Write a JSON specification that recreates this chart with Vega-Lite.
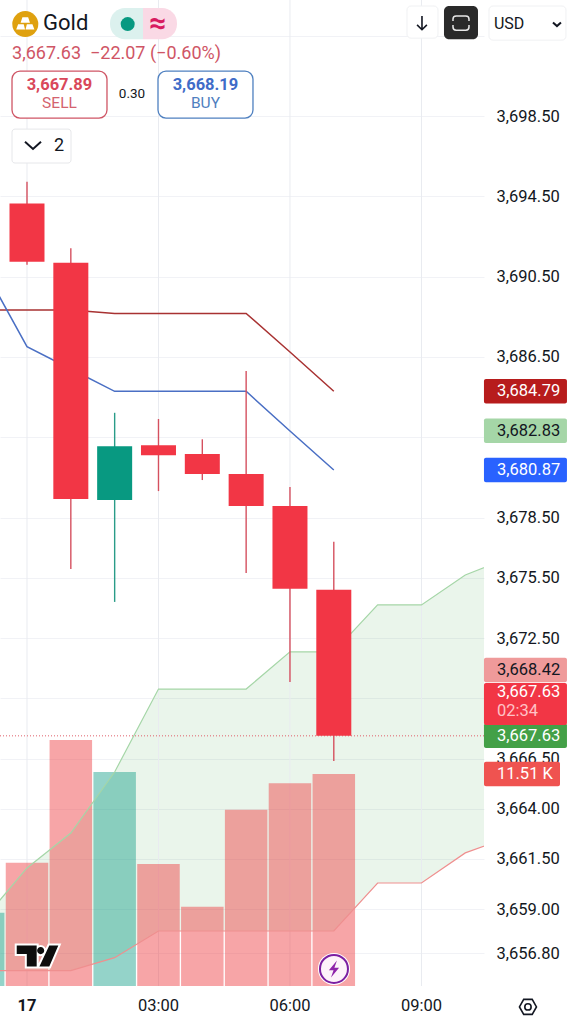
{
  "$schema": "https://vega.github.io/schema/vega-lite/v6.json",
  "width": 484,
  "height": 986,
  "autosize": "none",
  "padding": { "left": 0, "top": 0, "right": 89, "bottom": 38 },
  "background": "#ffffff",
  "config": { "view": { "stroke": null }, "text": { "font": "Roboto" }, "scale": { "continuousPadding": 0 } },
  "datasets": {
    "ui": [{ "panel": "header" }],
    "candles": [
      { "hour": 0, "open": 3694.15, "high": 3695.23, "low": 3691.09, "close": 3691.24 },
      { "hour": 1, "open": 3691.19, "high": 3691.91, "low": 3675.94, "close": 3679.43 },
      { "hour": 2, "open": 3679.38, "high": 3683.72, "low": 3674.3, "close": 3682.05 },
      { "hour": 3, "open": 3682.1, "high": 3683.41, "low": 3679.82, "close": 3681.6 },
      { "hour": 4, "open": 3681.67, "high": 3682.4, "low": 3680.37, "close": 3680.67 },
      { "hour": 5, "open": 3680.67, "high": 3685.8, "low": 3675.74, "close": 3679.08 },
      { "hour": 6, "open": 3679.08, "high": 3680.02, "low": 3670.31, "close": 3674.95 },
      { "hour": 7, "open": 3674.9, "high": 3677.3, "low": 3666.38, "close": 3667.63 }
    ],
    "volume": [
      { "hour": -1, "volume": 3980, "direction": "up" },
      { "hour": 0, "volume": 6695, "direction": "down" },
      { "hour": 1, "volume": 13358, "direction": "down" },
      { "hour": 2, "volume": 11620, "direction": "up" },
      { "hour": 3, "volume": 6625, "direction": "down" },
      { "hour": 4, "volume": 4306, "direction": "down" },
      { "hour": 5, "volume": 9573, "direction": "down" },
      { "hour": 6, "volume": 11007, "direction": "down" },
      { "hour": 7, "volume": 11510, "direction": "down" }
    ],
    "cloud": [
      { "hour": -1, "top": 3658.46, "bottom": 3655.94 },
      { "hour": 0, "top": 3661.05, "bottom": 3655.94 },
      { "hour": 1, "top": 3662.79, "bottom": 3655.94 },
      { "hour": 2, "top": 3665.83, "bottom": 3656.58 },
      { "hour": 3, "top": 3669.96, "bottom": 3657.91 },
      { "hour": 4, "top": 3669.96, "bottom": 3657.91 },
      { "hour": 5, "top": 3669.96, "bottom": 3657.91 },
      { "hour": 6, "top": 3671.81, "bottom": 3657.91 },
      { "hour": 7, "top": 3671.81, "bottom": 3657.91 },
      { "hour": 8, "top": 3674.15, "bottom": 3660.3 },
      { "hour": 9, "top": 3674.15, "bottom": 3660.3 },
      { "hour": 10, "top": 3675.64, "bottom": 3661.8 },
      { "hour": 11, "top": 3676.49, "bottom": 3662.6 }
    ],
    "bands": [
      { "hour": -1, "red": 3688.84, "blue": 3690.98 },
      { "hour": 0, "red": 3688.84, "blue": 3687.01 },
      { "hour": 1, "red": 3688.84, "blue": 3685.9 },
      { "hour": 2, "red": 3688.67, "blue": 3684.79 },
      { "hour": 3, "red": 3688.67, "blue": 3684.79 },
      { "hour": 4, "red": 3688.67, "blue": 3684.79 },
      { "hour": 5, "red": 3688.67, "blue": 3684.79 },
      { "hour": 6, "red": 3686.75, "blue": 3682.81 },
      { "hour": 7, "red": 3684.79, "blue": 3680.87 }
    ],
    "tags": [
      { "label": "3,684.79", "tag": "upper", "slot": 3684.79 },
      { "label": "3,682.83", "tag": "middle", "slot": 3682.83 },
      { "label": "3,680.87", "tag": "lower", "slot": 3680.87 },
      { "label": "3,668.42", "tag": "cloud", "slot": 3670.91 },
      { "label": "3,667.63", "tag": "close", "slot": 3667.63 }
    ],
    "sessions": [
      { "hour": 0, "label": "17" },
      { "hour": 3, "label": "03:00" },
      { "hour": 6, "label": "06:00" },
      { "hour": 9, "label": "09:00" }
    ]
  },
  "data": { "name": "ui" },
  "resolve": { "scale": { "y": "independent" } },
  "layer": [
    {
      "data": { "name": "cloud" },
      "mark": { "type": "area", "clip": true, "color": "#43a047", "opacity": 0.11 },
      "encoding": {
        "x": { "field": "hour", "type": "quantitative", "scale": { "domain": [-0.616, 10.427] }, "axis": null },
        "y": {
          "field": "top",
          "type": "quantitative",
          "scale": { "domain": [3655.17, 3704.28] },
          "axis": {
            "title": null,
            "orient": "right",
            "values": [3702.5, 3698.5, 3694.5, 3690.5, 3686.5, 3682.5, 3678.5, 3675.5, 3672.5, 3669.5, 3666.5, 3664, 3661.5, 3659, 3656.8],
            "labelExpr": "indexof([3702.5, 3682.5, 3669.5], datum.value) >= 0 ? '' : format(datum.value, ',.2f')",
            "labelFont": "Roboto",
            "labelFontSize": 16.5,
            "labelColor": "#131722",
            "labelPadding": 12,
            "labelOverlap": false,
            "labelBound": false,
            "domain": false,
            "ticks": false,
            "grid": true,
            "gridColor": "#f1f2f6"
          }
        },
        "y2": { "field": "bottom" }
      }
    },
    {
      "data": { "name": "sessions" },
      "mark": { "type": "rule", "color": "#e9ebf0", "strokeWidth": 1 },
      "encoding": {
        "x": { "field": "hour", "type": "quantitative", "scale": { "domain": [-0.616, 10.427] }, "axis": null }
      }
    },
    {
      "data": { "name": "volume" },
      "mark": { "type": "bar", "orient": "vertical", "width": 42.5, "clip": true, "opacity": 0.47 },
      "encoding": {
        "x": { "field": "hour", "type": "quantitative", "scale": { "domain": [-0.616, 10.427] }, "axis": null },
        "y": { "field": "volume", "type": "quantitative", "scale": { "domain": [0, 53540] }, "axis": null },
        "color": { "condition": { "test": "datum.direction == 'up'", "value": "#1ba18c" }, "value": "#ef4045" }
      }
    },
    {
      "layer": [
        {
          "data": { "name": "cloud" },
          "mark": { "type": "line", "clip": true, "color": "#a5d6a7", "strokeWidth": 1.2 },
          "encoding": {
            "x": { "field": "hour", "type": "quantitative", "scale": { "domain": [-0.616, 10.427] }, "axis": null },
            "y": { "field": "top", "type": "quantitative", "scale": { "domain": [3655.17, 3704.28] }, "axis": null }
          }
        },
        {
          "data": { "name": "cloud" },
          "mark": { "type": "line", "clip": true, "color": "#ef8f8f", "strokeWidth": 1.2 },
          "encoding": {
            "x": { "field": "hour", "type": "quantitative", "scale": { "domain": [-0.616, 10.427] }, "axis": null },
            "y": { "field": "bottom", "type": "quantitative", "scale": { "domain": [3655.17, 3704.28] }, "axis": null }
          }
        },
        {
          "data": { "name": "bands" },
          "mark": { "type": "line", "clip": true, "color": "#a83232", "strokeWidth": 1.5 },
          "encoding": {
            "x": { "field": "hour", "type": "quantitative", "scale": { "domain": [-0.616, 10.427] }, "axis": null },
            "y": { "field": "red", "type": "quantitative", "scale": { "domain": [3655.17, 3704.28] }, "axis": null }
          }
        },
        {
          "data": { "name": "bands" },
          "mark": { "type": "line", "clip": true, "color": "#4a6fc4", "strokeWidth": 1.5 },
          "encoding": {
            "x": { "field": "hour", "type": "quantitative", "scale": { "domain": [-0.616, 10.427] }, "axis": null },
            "y": { "field": "blue", "type": "quantitative", "scale": { "domain": [3655.17, 3704.28] }, "axis": null }
          }
        },
        {
          "data": { "values": [{ "last": 3667.63 }] },
          "mark": { "type": "rule", "color": "#e0606a", "strokeWidth": 1, "strokeDash": [1, 2] },
          "encoding": {
            "y": { "field": "last", "type": "quantitative", "scale": { "domain": [3655.17, 3704.28] }, "axis": null }
          }
        },
        {
          "data": { "name": "candles" },
          "mark": { "type": "rule", "strokeWidth": 1.4 },
          "encoding": {
            "x": { "field": "hour", "type": "quantitative", "scale": { "domain": [-0.616, 10.427] }, "axis": null },
            "y": { "field": "low", "type": "quantitative", "scale": { "domain": [3655.17, 3704.28] }, "axis": null },
            "y2": { "field": "high" },
            "color": { "condition": { "test": "datum.close > datum.open", "value": "#2a9c88" }, "value": "#d5505f" }
          }
        },
        {
          "data": { "name": "candles" },
          "mark": { "type": "bar", "width": 35 },
          "encoding": {
            "x": { "field": "hour", "type": "quantitative", "scale": { "domain": [-0.616, 10.427] }, "axis": null },
            "y": { "field": "open", "type": "quantitative", "scale": { "domain": [3655.17, 3704.28] }, "axis": null },
            "y2": { "field": "close" },
            "color": { "condition": { "test": "datum.close > datum.open", "value": "#089981" }, "value": "#f23645" }
          }
        },
        {
          "mark": { "type": "point", "filled": false, "opacity": 1, "size": 1764, "stroke": "#ffffff", "strokeWidth": 4,
            "shape": "M-.99,-.5 L-.04,-.5 L-.04,.5 L-.51,.5 L-.51,-.1 L-.99,-.1 Z M.32,-.26 A.167,.167 0 1 1 -.02,-.26 A.167,.167 0 1 1 .32,-.26 Z M.56,-.5 L.99,-.5 L.56,.5 L.09,.5 Z" },
          "encoding": {
            "x": { "datum": 0.24, "type": "quantitative", "scale": { "domain": [-0.616, 10.427] }, "axis": null },
            "y": { "datum": 3656.66, "type": "quantitative", "scale": { "domain": [3655.17, 3704.28] }, "axis": null }
          }
        },
        {
          "mark": { "type": "point", "filled": true, "opacity": 1, "size": 1764, "fill": "#0d0d0d",
            "shape": "M-.99,-.5 L-.04,-.5 L-.04,.5 L-.51,.5 L-.51,-.1 L-.99,-.1 Z M.32,-.26 A.167,.167 0 1 1 -.02,-.26 A.167,.167 0 1 1 .32,-.26 Z M.56,-.5 L.99,-.5 L.56,.5 L.09,.5 Z" },
          "encoding": {
            "x": { "datum": 0.24, "type": "quantitative", "scale": { "domain": [-0.616, 10.427] }, "axis": null },
            "y": { "datum": 3656.66, "type": "quantitative", "scale": { "domain": [3655.17, 3704.28] }, "axis": null }
          }
        },
        {
          "mark": { "type": "point", "shape": "circle", "filled": true, "opacity": 1, "size": 1024, "fill": "#ffffff" },
          "encoding": {
            "x": { "datum": 7.004, "type": "quantitative", "scale": { "domain": [-0.616, 10.427] }, "axis": null },
            "y": { "datum": 3656.02, "type": "quantitative", "scale": { "domain": [3655.17, 3704.28] }, "axis": null }
          }
        },
        {
          "mark": { "type": "point", "shape": "circle", "filled": true, "opacity": 1, "size": 784, "fill": "#fdf3fa", "stroke": "#7b1fa2", "strokeWidth": 2 },
          "encoding": {
            "x": { "datum": 7.004, "type": "quantitative", "scale": { "domain": [-0.616, 10.427] }, "axis": null },
            "y": { "datum": 3656.02, "type": "quantitative", "scale": { "domain": [3655.17, 3704.28] }, "axis": null }
          }
        },
        {
          "mark": { "type": "point", "filled": true, "opacity": 1, "size": 289, "fill": "#8e24aa",
            "shape": "M.35,-1 L-.6,.15 L-.05,.15 L-.35,1 L.6,-.15 L.05,-.15 Z" },
          "encoding": {
            "x": { "datum": 7.004, "type": "quantitative", "scale": { "domain": [-0.616, 10.427] }, "axis": null },
            "y": { "datum": 3656.02, "type": "quantitative", "scale": { "domain": [3655.17, 3704.28] }, "axis": null }
          }
        },
        {
          "data": { "name": "tags" },
          "mark": { "type": "rect", "width": 83, "height": 24.5, "cornerRadius": 2 },
          "encoding": {
            "x": { "datum": 11.373, "type": "quantitative", "scale": { "domain": [-0.616, 10.427] }, "axis": null },
            "y": { "field": "slot", "type": "quantitative", "scale": { "domain": [3655.17, 3704.28] }, "axis": null },
            "color": {
              "field": "tag",
              "type": "nominal",
              "legend": null,
              "scale": {
                "domain": ["upper", "middle", "lower", "cloud", "close"],
                "range": ["#b71c1c", "#a5d6a7", "#2962ff", "#ef9a9a", "#43a047"]
              }
            }
          }
        },
        {
          "mark": { "type": "rect", "width": 83, "height": 42, "cornerRadius": 2, "color": "#f23645" },
          "encoding": {
            "x": { "datum": 11.373, "type": "quantitative", "scale": { "domain": [-0.616, 10.427] }, "axis": null },
            "y": { "datum": 3669.22, "type": "quantitative", "scale": { "domain": [3655.17, 3704.28] }, "axis": null }
          }
        },
        {
          "mark": { "type": "rect", "width": 76, "height": 24.5, "cornerRadius": 2, "color": "#ef5350" },
          "encoding": {
            "x": { "datum": 11.294, "type": "quantitative", "scale": { "domain": [-0.616, 10.427] }, "axis": null },
            "y": { "datum": 3665.73, "type": "quantitative", "scale": { "domain": [3655.17, 3704.28] }, "axis": null }
          }
        },
        {
          "data": { "name": "tags" },
          "mark": { "type": "text", "align": "left", "baseline": "middle", "font": "Roboto", "fontSize": 16.5 },
          "encoding": {
            "x": { "datum": 10.723, "type": "quantitative", "scale": { "domain": [-0.616, 10.427] }, "axis": null },
            "y": { "field": "slot", "type": "quantitative", "scale": { "domain": [3655.17, 3704.28] }, "axis": null },
            "text": { "field": "label" },
            "color": { "condition": { "test": "datum.tag == 'middle' || datum.tag == 'cloud'", "value": "#131722" }, "value": "#ffffff" }
          }
        },
        {
          "mark": { "type": "text", "text": "3,667.63", "align": "left", "baseline": "middle", "font": "Roboto", "fontSize": 16.5, "color": "#ffffff" },
          "encoding": {
            "x": { "datum": 10.723, "type": "quantitative", "scale": { "domain": [-0.616, 10.427] }, "axis": null },
            "y": { "datum": 3669.82, "type": "quantitative", "scale": { "domain": [3655.17, 3704.28] }, "axis": null }
          }
        },
        {
          "mark": { "type": "text", "text": "02:34", "align": "left", "baseline": "middle", "font": "Roboto", "fontSize": 16.5, "color": "#ffc2c6" },
          "encoding": {
            "x": { "datum": 10.723, "type": "quantitative", "scale": { "domain": [-0.616, 10.427] }, "axis": null },
            "y": { "datum": 3668.87, "type": "quantitative", "scale": { "domain": [3655.17, 3704.28] }, "axis": null }
          }
        },
        {
          "mark": { "type": "text", "text": "11.51 K", "align": "left", "baseline": "middle", "font": "Roboto", "fontSize": 16.5, "color": "#ffffff" },
          "encoding": {
            "x": { "datum": 10.723, "type": "quantitative", "scale": { "domain": [-0.616, 10.427] }, "axis": null },
            "y": { "datum": 3665.73, "type": "quantitative", "scale": { "domain": [3655.17, 3704.28] }, "axis": null }
          }
        },
        {
          "data": { "name": "sessions" },
          "transform": [{ "filter": "datum.hour == 0" }],
          "mark": { "type": "text", "align": "center", "baseline": "middle", "font": "Roboto", "fontSize": 16.5, "fontWeight": "bold", "color": "#131722" },
          "encoding": {
            "x": { "field": "hour", "type": "quantitative", "scale": { "domain": [-0.616, 10.427] }, "axis": null },
            "y": { "datum": 3654.18, "type": "quantitative", "scale": { "domain": [3655.17, 3704.28] }, "axis": null },
            "text": { "field": "label" }
          }
        },
        {
          "data": { "name": "sessions" },
          "transform": [{ "filter": "datum.hour > 0" }],
          "mark": { "type": "text", "align": "center", "baseline": "middle", "font": "Roboto", "fontSize": 16.5, "color": "#131722" },
          "encoding": {
            "x": { "field": "hour", "type": "quantitative", "scale": { "domain": [-0.616, 10.427] }, "axis": null },
            "y": { "datum": 3654.18, "type": "quantitative", "scale": { "domain": [3655.17, 3704.28] }, "axis": null },
            "text": { "field": "label" }
          }
        },
        {
          "mark": { "type": "point", "shape": "circle", "filled": true, "opacity": 1, "size": 676, "fill": "#dfa10f" },
          "encoding": {
            "x": { "datum": -0.039, "type": "quantitative", "scale": { "domain": [-0.616, 10.427] }, "axis": null },
            "y": { "datum": 3703.08, "type": "quantitative", "scale": { "domain": [3655.17, 3704.28] }, "axis": null }
          }
        },
        {
          "mark": { "type": "point", "filled": true, "opacity": 1, "size": 676, "fill": "#ffffff",
            "shape": "M-.22,-.52 L.22,-.52 L.36,-.1 L-.36,-.1 Z M-.55,.02 L-.12,.02 L-.02,.42 L-.7,.42 Z M.12,.02 L.55,.02 L.7,.42 L.02,.42 Z" },
          "encoding": {
            "x": { "datum": -0.039, "type": "quantitative", "scale": { "domain": [-0.616, 10.427] }, "axis": null },
            "y": { "datum": 3703.08, "type": "quantitative", "scale": { "domain": [3655.17, 3704.28] }, "axis": null }
          }
        },
        {
          "mark": { "type": "text", "text": "Gold", "align": "left", "baseline": "middle", "font": "Roboto", "fontSize": 22, "color": "#131722" },
          "encoding": {
            "x": { "datum": 0.365, "type": "quantitative", "scale": { "domain": [-0.616, 10.427] }, "axis": null },
            "y": { "datum": 3703.13, "type": "quantitative", "scale": { "domain": [3655.17, 3704.28] }, "axis": null }
          }
        },
        {
          "mark": { "type": "rect", "color": "#dcf1ee", "cornerRadiusTopLeft": 15, "cornerRadiusBottomLeft": 15 },
          "encoding": {
            "x": { "datum": 1.894, "type": "quantitative", "scale": { "domain": [-0.616, 10.427] }, "axis": null },
            "x2": { "datum": 2.647 },
            "y": { "datum": 3703.88, "type": "quantitative", "scale": { "domain": [3655.17, 3704.28] }, "axis": null },
            "y2": { "datum": 3702.33 }
          }
        },
        {
          "mark": { "type": "rect", "color": "#fad9e5", "cornerRadiusTopRight": 15, "cornerRadiusBottomRight": 15 },
          "encoding": {
            "x": { "datum": 2.647, "type": "quantitative", "scale": { "domain": [-0.616, 10.427] }, "axis": null },
            "x2": { "datum": 3.422 },
            "y": { "datum": 3703.88, "type": "quantitative", "scale": { "domain": [3655.17, 3704.28] }, "axis": null },
            "y2": { "datum": 3702.33 }
          }
        },
        {
          "mark": { "type": "point", "shape": "circle", "filled": true, "opacity": 1, "size": 196, "fill": "#089981" },
          "encoding": {
            "x": { "datum": 2.297, "type": "quantitative", "scale": { "domain": [-0.616, 10.427] }, "axis": null },
            "y": { "datum": 3703.08, "type": "quantitative", "scale": { "domain": [3655.17, 3704.28] }, "axis": null }
          }
        },
        {
          "mark": { "type": "text", "text": "≈", "align": "center", "baseline": "middle", "font": "Roboto", "fontWeight": "bold", "fontSize": 30, "color": "#d81b60" },
          "encoding": {
            "x": { "datum": 2.989, "type": "quantitative", "scale": { "domain": [-0.616, 10.427] }, "axis": null },
            "y": { "datum": 3703.08, "type": "quantitative", "scale": { "domain": [3655.17, 3704.28] }, "axis": null }
          }
        },
        {
          "mark": { "type": "rect", "color": "#ffffff", "stroke": "#f0f1f3", "cornerRadius": 4 },
          "encoding": {
            "x": { "datum": 8.67, "type": "quantitative", "scale": { "domain": [-0.616, 10.427] }, "axis": null },
            "x2": { "datum": 9.377 },
            "y": { "datum": 3703.98, "type": "quantitative", "scale": { "domain": [3655.17, 3704.28] }, "axis": null },
            "y2": { "datum": 3702.38 }
          }
        },
        {
          "mark": { "type": "point", "filled": false, "opacity": 1, "size": 196, "stroke": "#131722", "strokeWidth": 1.6,
            "shape": "M0,-1 L0,.95 M-.7,.25 L0,.95 L.7,.25" },
          "encoding": {
            "x": { "datum": 9.012, "type": "quantitative", "scale": { "domain": [-0.616, 10.427] }, "axis": null },
            "y": { "datum": 3703.13, "type": "quantitative", "scale": { "domain": [3655.17, 3704.28] }, "axis": null }
          }
        },
        {
          "mark": { "type": "rect", "color": "#2a2a2a", "cornerRadius": 5 },
          "encoding": {
            "x": { "datum": 9.514, "type": "quantitative", "scale": { "domain": [-0.616, 10.427] }, "axis": null },
            "x2": { "datum": 10.29 },
            "y": { "datum": 3703.98, "type": "quantitative", "scale": { "domain": [3655.17, 3704.28] }, "axis": null },
            "y2": { "datum": 3702.33 }
          }
        },
        {
          "mark": { "type": "point", "filled": false, "opacity": 1, "size": 256, "stroke": "#e8e8e8", "strokeWidth": 1.5,
            "shape": "M-1,-.25 L-1,-.5 Q-1,-.9 -.6,-.9 L.6,-.9 Q1,-.9 1,-.5 L1,-.25 M-1,.25 L-1,.5 Q-1,.9 -.6,.9 L.6,.9 Q1,.9 1,.5 L1,.25" },
          "encoding": {
            "x": { "datum": 9.902, "type": "quantitative", "scale": { "domain": [-0.616, 10.427] }, "axis": null },
            "y": { "datum": 3703.13, "type": "quantitative", "scale": { "domain": [3655.17, 3704.28] }, "axis": null }
          }
        },
        {
          "mark": { "type": "rect", "color": "#ffffff", "stroke": "#f0f1f3", "cornerRadius": 4 },
          "encoding": {
            "x": { "datum": 10.541, "type": "quantitative", "scale": { "domain": [-0.616, 10.427] }, "axis": null },
            "x2": { "datum": 12.297 },
            "y": { "datum": 3703.98, "type": "quantitative", "scale": { "domain": [3655.17, 3704.28] }, "axis": null },
            "y2": { "datum": 3702.28 }
          }
        },
        {
          "mark": { "type": "text", "text": "USD", "align": "left", "baseline": "middle", "font": "Roboto", "fontSize": 16, "color": "#131722" },
          "encoding": {
            "x": { "datum": 10.655, "type": "quantitative", "scale": { "domain": [-0.616, 10.427] }, "axis": null },
            "y": { "datum": 3703.08, "type": "quantitative", "scale": { "domain": [3655.17, 3704.28] }, "axis": null }
          }
        },
        {
          "mark": { "type": "point", "filled": false, "opacity": 1, "size": 64, "stroke": "#131722", "strokeWidth": 2,
            "shape": "M-1,-.4 L0,.5 L1,-.4" },
          "encoding": {
            "x": { "datum": 12.092, "type": "quantitative", "scale": { "domain": [-0.616, 10.427] }, "axis": null },
            "y": { "datum": 3703.08, "type": "quantitative", "scale": { "domain": [3655.17, 3704.28] }, "axis": null }
          }
        },
        {
          "mark": { "type": "text", "text": "3,667.63", "align": "left", "baseline": "middle", "font": "Roboto", "fontSize": 18, "color": "#cf5565" },
          "encoding": {
            "x": { "datum": -0.342, "type": "quantitative", "scale": { "domain": [-0.616, 10.427] }, "axis": null },
            "y": { "datum": 3701.59, "type": "quantitative", "scale": { "domain": [3655.17, 3704.28] }, "axis": null }
          }
        },
        {
          "mark": { "type": "text", "text": "−22.07 (−0.60%)", "align": "left", "baseline": "middle", "font": "Roboto", "fontSize": 18, "color": "#cf5565" },
          "encoding": {
            "x": { "datum": 1.437, "type": "quantitative", "scale": { "domain": [-0.616, 10.427] }, "axis": null },
            "y": { "datum": 3701.59, "type": "quantitative", "scale": { "domain": [3655.17, 3704.28] }, "axis": null }
          }
        },
        {
          "mark": { "type": "rect", "color": "#ffffff", "stroke": "#cf5565", "strokeWidth": 1.3, "cornerRadius": 8 },
          "encoding": {
            "x": { "datum": -0.342, "type": "quantitative", "scale": { "domain": [-0.616, 10.427] }, "axis": null },
            "x2": { "datum": 1.825 },
            "y": { "datum": 3700.74, "type": "quantitative", "scale": { "domain": [3655.17, 3704.28] }, "axis": null },
            "y2": { "datum": 3698.4 }
          }
        },
        {
          "mark": { "type": "text", "text": "3,667.89", "align": "center", "baseline": "middle", "font": "Roboto", "fontWeight": "bold", "fontSize": 16.5, "color": "#d9485a" },
          "encoding": {
            "x": { "datum": 0.741, "type": "quantitative", "scale": { "domain": [-0.616, 10.427] }, "axis": null },
            "y": { "datum": 3700.04, "type": "quantitative", "scale": { "domain": [3655.17, 3704.28] }, "axis": null }
          }
        },
        {
          "mark": { "type": "text", "text": "SELL", "align": "center", "baseline": "middle", "font": "Roboto", "fontSize": 15.5, "color": "#d4636f" },
          "encoding": {
            "x": { "datum": 0.741, "type": "quantitative", "scale": { "domain": [-0.616, 10.427] }, "axis": null },
            "y": { "datum": 3699.15, "type": "quantitative", "scale": { "domain": [3655.17, 3704.28] }, "axis": null }
          }
        },
        {
          "mark": { "type": "text", "text": "0.30", "align": "center", "baseline": "middle", "font": "Roboto", "fontSize": 13.5, "color": "#131722" },
          "encoding": {
            "x": { "datum": 2.396, "type": "quantitative", "scale": { "domain": [-0.616, 10.427] }, "axis": null },
            "y": { "datum": 3699.6, "type": "quantitative", "scale": { "domain": [3655.17, 3704.28] }, "axis": null }
          }
        },
        {
          "mark": { "type": "rect", "color": "#ffffff", "stroke": "#4f80c0", "strokeWidth": 1.3, "cornerRadius": 8 },
          "encoding": {
            "x": { "datum": 2.989, "type": "quantitative", "scale": { "domain": [-0.616, 10.427] }, "axis": null },
            "x2": { "datum": 5.156 },
            "y": { "datum": 3700.74, "type": "quantitative", "scale": { "domain": [3655.17, 3704.28] }, "axis": null },
            "y2": { "datum": 3698.4 }
          }
        },
        {
          "mark": { "type": "text", "text": "3,668.19", "align": "center", "baseline": "middle", "font": "Roboto", "fontWeight": "bold", "fontSize": 16.5, "color": "#3f6cc8" },
          "encoding": {
            "x": { "datum": 4.072, "type": "quantitative", "scale": { "domain": [-0.616, 10.427] }, "axis": null },
            "y": { "datum": 3700.04, "type": "quantitative", "scale": { "domain": [3655.17, 3704.28] }, "axis": null }
          }
        },
        {
          "mark": { "type": "text", "text": "BUY", "align": "center", "baseline": "middle", "font": "Roboto", "fontSize": 15.5, "color": "#4f80c0" },
          "encoding": {
            "x": { "datum": 4.072, "type": "quantitative", "scale": { "domain": [-0.616, 10.427] }, "axis": null },
            "y": { "datum": 3699.15, "type": "quantitative", "scale": { "domain": [3655.17, 3704.28] }, "axis": null }
          }
        },
        {
          "mark": { "type": "rect", "color": "#ffffff", "stroke": "#e6e7ea", "cornerRadius": 3 },
          "encoding": {
            "x": { "datum": -0.342, "type": "quantitative", "scale": { "domain": [-0.616, 10.427] }, "axis": null },
            "x2": { "datum": 1.004 },
            "y": { "datum": 3697.85, "type": "quantitative", "scale": { "domain": [3655.17, 3704.28] }, "axis": null },
            "y2": { "datum": 3696.16 }
          }
        },
        {
          "mark": { "type": "point", "filled": false, "opacity": 1, "size": 256, "stroke": "#131722", "strokeWidth": 2,
            "shape": "M-1,-.4 L0,.5 L1,-.4" },
          "encoding": {
            "x": { "datum": 0.137, "type": "quantitative", "scale": { "domain": [-0.616, 10.427] }, "axis": null },
            "y": { "datum": 3697.06, "type": "quantitative", "scale": { "domain": [3655.17, 3704.28] }, "axis": null }
          }
        },
        {
          "mark": { "type": "text", "text": "2", "align": "center", "baseline": "middle", "font": "Roboto", "fontSize": 18, "color": "#131722" },
          "encoding": {
            "x": { "datum": 0.73, "type": "quantitative", "scale": { "domain": [-0.616, 10.427] }, "axis": null },
            "y": { "datum": 3697.01, "type": "quantitative", "scale": { "domain": [3655.17, 3704.28] }, "axis": null }
          }
        },
        {
          "mark": { "type": "point", "filled": false, "opacity": 1, "size": 289, "stroke": "#131722", "strokeWidth": 1.6,
            "shape": "M-1,0 L-.5,-.88 L.5,-.88 L1,0 L.5,.88 L-.5,.88 Z" },
          "encoding": {
            "x": { "datum": 11.43, "type": "quantitative", "scale": { "domain": [-0.616, 10.427] }, "axis": null },
            "y": { "datum": 3654.13, "type": "quantitative", "scale": { "domain": [3655.17, 3704.28] }, "axis": null }
          }
        },
        {
          "mark": { "type": "point", "shape": "circle", "filled": false, "opacity": 1, "size": 40, "stroke": "#131722", "strokeWidth": 1.6 },
          "encoding": {
            "x": { "datum": 11.43, "type": "quantitative", "scale": { "domain": [-0.616, 10.427] }, "axis": null },
            "y": { "datum": 3654.13, "type": "quantitative", "scale": { "domain": [3655.17, 3704.28] }, "axis": null }
          }
        }
      ]
    }
  ]
}
